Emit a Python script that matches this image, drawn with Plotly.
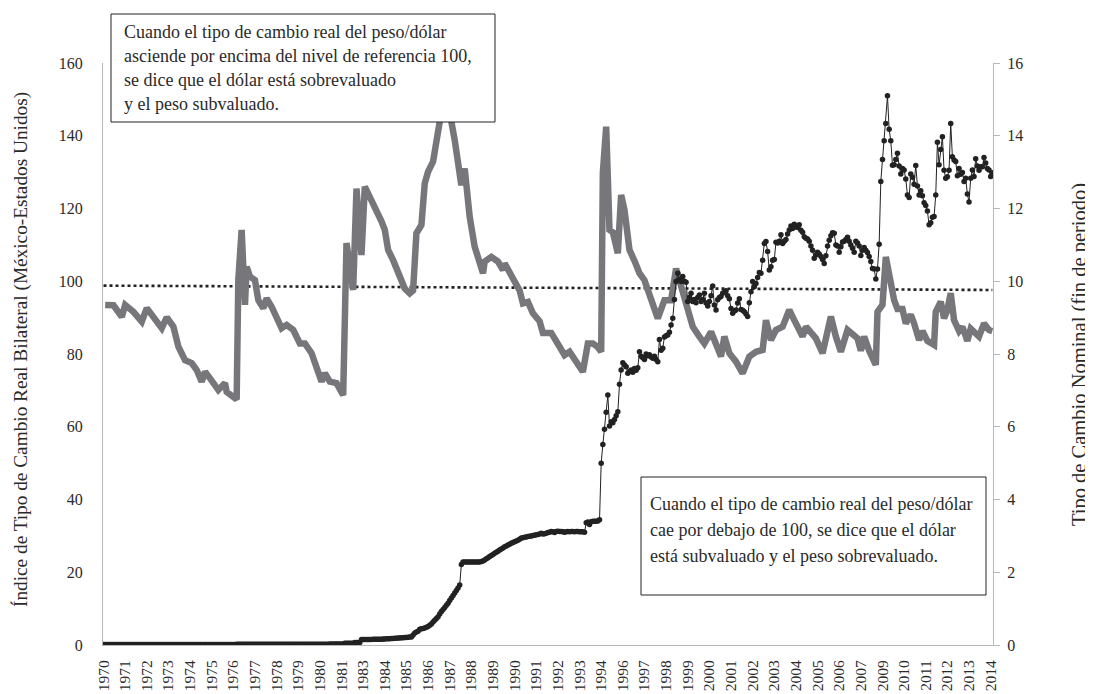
import plotly.graph_objects as go

# Monthly nominal exchange rate (pesos per dollar, end of period), Jan 1970 onward
nominal_1970_1981 = [
    0.0125, 0.0125, 0.0125, 0.0125, 0.0125, 0.0125, 0.0125, 0.0125, 0.0125, 0.0125, 0.0125, 0.0125,
    0.0125, 0.0125, 0.0125, 0.0125, 0.0125, 0.0125, 0.0125, 0.0125, 0.0125, 0.0125, 0.0125, 0.0125,
    0.0125, 0.0125, 0.0125, 0.0125, 0.0125, 0.0125, 0.0125, 0.0125, 0.0125, 0.0125, 0.0125, 0.0125,
    0.0125, 0.0125, 0.0125, 0.0125, 0.0125, 0.0125, 0.0125, 0.0125, 0.0125, 0.0125, 0.0125, 0.0125,
    0.0125, 0.0125, 0.0125, 0.0125, 0.0125, 0.0125, 0.0125, 0.0125, 0.0125, 0.0125, 0.0125, 0.0125,
    0.0125, 0.0125, 0.0125, 0.0125, 0.0125, 0.0125, 0.0125, 0.0125, 0.0125, 0.0125, 0.0125, 0.0125,
    0.0125, 0.0125, 0.0125, 0.0125, 0.0125, 0.0125, 0.0125, 0.0125, 0.0200, 0.0197, 0.0226, 0.0198,
    0.0223, 0.0227, 0.0226, 0.0227, 0.0227, 0.0227, 0.0228, 0.0228, 0.0228, 0.0228, 0.0228, 0.0227,
    0.0227, 0.0228, 0.0227, 0.0228, 0.0228, 0.0228, 0.0228, 0.0227, 0.0227, 0.0227, 0.0228, 0.0228,
    0.0228, 0.0228, 0.0228, 0.0228, 0.0228, 0.0228, 0.0228, 0.0228, 0.0228, 0.0229, 0.0229, 0.0229,
    0.0229, 0.0229, 0.0229, 0.0229, 0.0229, 0.0229, 0.0229, 0.0230, 0.0230, 0.0230, 0.0231, 0.0232,
    0.0233, 0.0235, 0.0237, 0.0239, 0.0241, 0.0243, 0.0245, 0.0247, 0.0250, 0.0253, 0.0256, 0.0262,
]
nominal_1982_1993 = [
    0.0270, 0.0460, 0.0450, 0.0460, 0.0470, 0.0480, 0.0490, 0.0700, 0.0700, 0.0700, 0.0700, 0.1485,
    0.1500, 0.1505, 0.1510, 0.1520, 0.1530, 0.1540, 0.1550, 0.1560, 0.1570, 0.1580, 0.1590, 0.1610,
    0.1630, 0.1660, 0.1690, 0.1720, 0.1750, 0.1780, 0.1810, 0.1840, 0.1870, 0.1900, 0.1930, 0.1960,
    0.1990, 0.2030, 0.2070, 0.2120, 0.2170, 0.2220, 0.2720, 0.3300, 0.3600, 0.3750, 0.4300, 0.4500,
    0.4530, 0.4700, 0.4900, 0.5100, 0.5400, 0.5800, 0.6300, 0.6800, 0.7300, 0.7800, 0.8500, 0.9200,
    0.9750, 1.0300, 1.0900, 1.1500, 1.2200, 1.2900, 1.3600, 1.4300, 1.5000, 1.5700, 1.6500, 2.2100,
    2.281, 2.281, 2.281, 2.281, 2.281, 2.281, 2.281, 2.281, 2.281, 2.281, 2.281, 2.297,
    2.310, 2.340, 2.370, 2.400, 2.430, 2.460, 2.490, 2.520, 2.550, 2.580, 2.610, 2.640,
    2.670, 2.700, 2.720, 2.750, 2.770, 2.800, 2.820, 2.840, 2.860, 2.880, 2.910, 2.940,
    2.950, 2.960, 2.970, 2.980, 2.990, 3.000, 3.010, 3.020, 3.030, 3.040, 3.050, 3.070,
    3.050, 3.060, 3.070, 3.090, 3.100, 3.120, 3.110, 3.090, 3.120, 3.130, 3.120, 3.120,
    3.110, 3.100, 3.110, 3.120, 3.110, 3.120, 3.120, 3.110, 3.120, 3.120, 3.110, 3.110,
]
nominal_1994_2014 = [
    3.110, 3.100, 3.360, 3.380, 3.310, 3.390, 3.400, 3.400, 3.400, 3.410, 3.440, 5.000,
    5.510, 5.930, 6.400, 6.870, 6.020, 6.140, 6.110, 6.200, 6.300, 6.410, 7.170, 7.560,
    7.760, 7.700, 7.650, 7.470, 7.520, 7.560, 7.500, 7.600, 7.550, 7.620, 8.060, 7.940,
    7.900, 7.850, 8.000, 7.950, 7.980, 7.920, 7.880, 7.940, 7.850, 7.790, 8.400, 8.100,
    8.160, 8.470, 8.500, 8.520, 8.600, 8.800, 8.980, 9.500, 9.990, 10.220, 10.050, 9.990,
    10.130, 10.000, 9.970, 9.440, 9.550, 9.670, 9.440, 9.500, 9.410, 9.550, 9.620, 9.440,
    9.500, 9.670, 9.400, 9.320, 9.440, 9.600, 9.870, 9.350, 9.210, 9.490, 9.550, 9.580,
    9.670, 9.700, 9.740, 9.600, 9.520, 9.250, 9.120, 9.180, 9.210, 9.400, 9.520, 9.220,
    9.200, 9.160, 9.100, 9.030, 9.410, 9.710, 9.990, 9.850, 9.940, 10.100, 10.240, 10.220,
    10.580, 11.040, 11.090, 10.820, 10.310, 10.400, 10.580, 10.600, 11.070, 11.050, 11.100, 11.280,
    11.040, 11.100, 11.150, 11.300, 11.410, 11.520, 11.450, 11.570, 11.500, 11.480, 11.550, 11.400,
    11.350, 11.220, 11.180, 11.160, 11.100, 10.970, 10.850, 10.630, 10.720, 10.800, 10.750, 10.680,
    10.600, 10.490, 10.700, 10.970, 11.130, 11.250, 11.330, 11.320, 11.000, 10.970, 10.800, 10.950,
    11.080, 11.100, 11.150, 11.210, 11.100, 11.000, 10.910, 10.800, 11.100, 11.050, 10.970, 10.710,
    10.850, 10.930, 10.850, 10.790, 10.680, 10.540, 10.350, 10.340, 10.060, 10.340, 11.020, 12.740,
    13.350, 13.860, 14.340, 15.100, 14.180, 13.860, 13.190, 13.200, 13.350, 13.520, 13.170, 12.950,
    13.100, 13.060, 12.810, 12.370, 12.300, 12.950, 12.860, 12.670, 13.180, 12.620, 12.370, 12.490,
    12.350, 12.160, 12.080, 11.930, 11.550, 11.610, 11.760, 11.780, 12.370, 13.820, 13.200, 13.620,
    13.970, 13.050, 12.830, 12.870, 13.050, 14.340, 13.420, 13.330, 13.290, 12.900, 13.100, 12.940,
    12.990, 12.740, 12.830, 12.400, 12.180, 12.830, 13.060, 12.880, 13.370, 13.170, 13.050, 13.150,
    13.150, 13.400, 13.250, 13.100, 13.060, 12.880, 12.980,
]

# Real bilateral exchange rate index, read at month numbers counted from Jan 1970
real_month = [
    1, 6, 11, 13, 18, 23, 26, 30, 35, 38, 42, 45, 49, 53, 56, 59, 61, 65, 69, 73, 74, 80,
    81, 83, 85, 86, 88, 91, 93, 96, 98, 101, 104, 107, 110, 114, 118, 121, 125, 128, 131, 133,
    136, 140, 144, 146, 148, 150, 152, 155, 157, 162, 167, 169, 171, 174, 178, 181, 184, 186,
    188, 191, 193, 195, 198, 200, 202, 205, 207, 209, 211, 214, 215, 217, 218, 220, 223, 226,
    228, 229, 233, 237, 240, 241, 244, 247, 250, 252, 255, 258, 262, 264, 269, 274, 277, 280,
    284, 288, 291, 294, 297, 299, 300, 302, 304, 306, 309, 311, 313, 316, 319, 322, 325, 328,
    331, 333, 337, 341, 344, 346, 348, 351, 354, 358, 361, 365, 368, 371, 373, 376, 380, 384,
    388, 392, 396, 398, 401, 404, 408, 412, 415, 417, 420, 422, 425, 428, 432, 434, 437, 440,
    443, 447, 451, 453, 455, 457, 460, 464, 465, 468, 470, 471, 473, 475, 477, 480, 482, 485,
    487, 490, 492, 495, 499, 500, 503, 505, 507, 509, 511, 514, 516, 519, 521, 523, 526, 529,
    532, 534,
]
real_index = [
    93.5, 93.4, 90.2, 93.5, 91.6, 88.9, 92.6, 90.2, 87.1, 90.1, 87.5, 82.0, 78.3, 77.5, 75.6, 72.4, 75.1, 72.7, 70.1, 72.0, 69.6, 67.5,
    100.3, 114.1, 93.5, 104.0, 101.3, 100.3, 94.8, 92.6, 95.3, 93.0, 89.8, 87.1, 88.0, 86.6, 82.9, 82.9, 80.2, 75.6, 72.4, 74.7,
    72.4, 72.0, 68.7, 110.5, 103.0, 97.6, 125.5, 107.2, 126.0, 121.5, 116.5, 114.1, 108.6, 105.8, 101.2, 98.0, 96.7, 97.5,
    113.2, 115.5, 126.9, 130.1, 132.9, 138.8, 143.4, 152.0, 155.0, 143.8, 138.8, 129.7, 126.4, 131.0, 125.1, 117.7, 109.5, 104.9,
    102.2, 105.4, 106.7, 105.4, 103.1, 104.9, 102.7, 99.9, 97.5, 93.9, 94.3, 91.2, 89.0, 85.8, 85.8, 82.0, 79.7, 80.6,
    77.9, 75.1, 82.9, 82.9, 81.9, 80.6, 129.7, 142.5, 114.1, 113.5, 107.7, 123.7, 119.6, 108.6, 105.6, 102.2, 100.3, 96.7,
    92.1, 89.8, 94.8, 94.8, 103.5, 100.3, 95.7, 92.1, 87.5, 84.8, 82.9, 86.1, 82.0, 79.3, 84.8, 80.2, 77.9, 74.7,
    79.3, 80.6, 81.1, 89.3, 83.8, 86.6, 87.5, 92.1, 89.3, 87.5, 84.8, 87.5, 86.0, 84.3, 80.2, 84.3, 90.3, 84.8,
    80.6, 86.6, 84.8, 84.3, 80.9, 84.8, 80.9, 77.0, 91.6, 93.5, 106.7, 104.0, 97.6, 94.8, 92.4, 92.4, 88.4, 90.8,
    88.4, 83.8, 86.3, 83.6, 82.5, 91.6, 94.4, 89.8, 92.1, 96.7, 89.3, 86.3, 87.5, 83.6, 87.0, 86.0, 84.8, 88.4,
    86.6, 86.3,
]

# dotted reference line (start / end of the sample)
reference_level = [98.8, 97.6]

# category labels, one every 13 months as on the original axis
tick_labels = [
    "1970", "1971", "1972", "1973", "1974", "1975", "1976", "1977", "1978", "1979", "1980", "1981",
    "1983", "1984", "1985", "1986", "1987", "1988", "1989", "1990", "1991", "1992", "1993", "1994",
    "1996", "1997", "1998", "1999", "2000", "2001", "2002", "2003", "2004", "2005", "2006", "2007",
    "2009", "2010", "2011", "2012", "2013", "2014",
]
LABEL_STEP = 13

box_top = [
    "Cuando el tipo de cambio real del peso/dólar",
    "asciende por encima del nivel de referencia 100,",
    "se dice que el dólar está sobrevaluado",
    "y el peso subvaluado.",
]
box_bottom = [
    "Cuando el tipo de cambio real del peso/dólar",
    "cae por debajo de 100, se dice que el dólar",
    "está subvaluado y el peso sobrevaluado.",
]

FONT = "Liberation Serif, Times New Roman, serif"
TEXT = "#2a2a2a"
AXIS = "#b8b8b8"

nominal = nominal_1970_1981 + nominal_1982_1993 + nominal_1994_2014
months = list(range(len(nominal)))
last = months[-1]

fig = go.Figure()

fig.add_trace(go.Scatter(
    x=[0, last], y=reference_level, mode="lines",
    line=dict(color="#222222", width=2.6, dash="dot"),
    hoverinfo="skip", showlegend=False,
))
fig.add_trace(go.Scatter(
    x=real_month, y=real_index, mode="lines",
    line=dict(color="#77777b", width=6.5),
    name="Tipo de cambio real", showlegend=False,
))
fig.add_trace(go.Scatter(
    x=months, y=nominal, mode="lines+markers", yaxis="y2",
    line=dict(color="#222222", width=1),
    marker=dict(color="#222222", size=5.5),
    name="Tipo de cambio nominal", showlegend=False,
))

# the page body adds an 8px offset, so the figure is 8px smaller than the window
W, H = 1085, 686
X0, X1, Y0, Y1 = 103, 993, 63, 645      # plot area in window pixels
L, T = X0 - 8, Y0 - 8
R, B = W - (X1 - 8), H - (Y1 - 8)


def px(x):
    return (x - X0) / (X1 - X0)


def py(y):
    return (Y1 - y) / (Y1 - Y0)


shapes = [
    dict(type="rect", xref="paper", yref="paper", layer="above",
         x0=px(111), x1=px(495), y0=py(122), y1=py(14),
         line=dict(color="#222222", width=1), fillcolor="white"),
    dict(type="rect", xref="paper", yref="paper", layer="above",
         x0=px(641), x1=px(986), y0=py(595), y1=py(477),
         line=dict(color="#222222", width=1), fillcolor="white"),
]

annotations = []
for i, line in enumerate(box_top):
    annotations.append(dict(
        text=line, xref="paper", yref="paper", x=px(122), y=py(32 + 24 * i),
        xanchor="left", yanchor="middle", showarrow=False,
        font=dict(family=FONT, size=18, color=TEXT),
    ))
for i, line in enumerate(box_bottom):
    annotations.append(dict(
        text=line, xref="paper", yref="paper", x=px(648), y=py(504 + 26 * i),
        xanchor="left", yanchor="middle", showarrow=False,
        font=dict(family=FONT, size=18, color=TEXT),
    ))
annotations.append(dict(
    text="Índice de Tipo de Cambio Real Bilateral (México-Estados Unidos)",
    xref="paper", yref="paper", x=px(21), y=py(350), textangle=-90,
    xanchor="center", yanchor="middle", showarrow=False,
    font=dict(family=FONT, size=19.3, color=TEXT),
))
annotations.append(dict(
    text="Tipo de Cambio Nominal (fin de periodo)",
    xref="paper", yref="paper", x=px(1079), y=py(355), textangle=-90,
    xanchor="center", yanchor="middle", showarrow=False,
    font=dict(family=FONT, size=20.5, color=TEXT),
))

fig.update_layout(
    width=W, height=H,
    margin=dict(l=L, r=R, t=T, b=B, autoexpand=False),
    paper_bgcolor="white", plot_bgcolor="white",
    font=dict(family=FONT, size=16, color=TEXT),
    xaxis=dict(
        range=[-0.3, last + 0.4],
        tickmode="array",
        tickvals=[i * LABEL_STEP for i in range(len(tick_labels))],
        ticktext=tick_labels,
        tickangle=-90,
        showgrid=False, zeroline=False,
        showline=True, linecolor=AXIS, linewidth=1,
        ticks="", ticklabelstandoff=8,
        tickfont=dict(family=FONT, size=15.5, color=TEXT),
    ),
    yaxis=dict(
        range=[0, 160], dtick=20,
        showgrid=False, zeroline=False,
        showline=True, linecolor=AXIS, linewidth=1,
        ticks="", ticklabelstandoff=16,
        tickfont=dict(family=FONT, size=16, color=TEXT),
    ),
    yaxis2=dict(
        range=[0, 16], dtick=2, overlaying="y", side="right",
        showgrid=False, zeroline=False,
        showline=True, linecolor=AXIS, linewidth=1,
        ticks="outside", ticklen=6, tickcolor=AXIS,
        ticklabelstandoff=4,
        tickfont=dict(family=FONT, size=16, color=TEXT),
    ),
    shapes=shapes,
    annotations=annotations,
    showlegend=False,
)

fig.write_html("out.html")
